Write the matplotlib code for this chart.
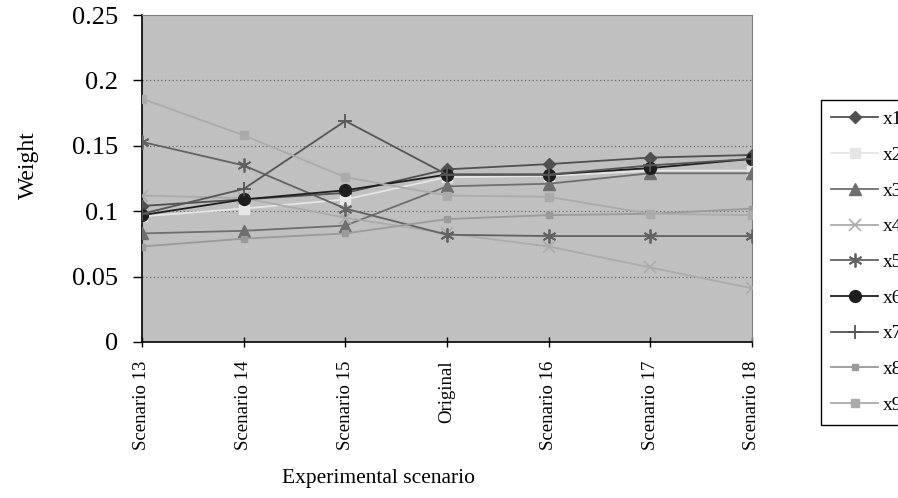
import matplotlib
matplotlib.use("Agg")
import matplotlib.pyplot as plt

plt.rcParams['font.family'] = ['Liberation Serif', 'DejaVu Serif']

categories = ["Scenario 13", "Scenario 14", "Scenario 15", "Original",
              "Scenario 16", "Scenario 17", "Scenario 18"]
x1 = [0.104, 0.109, 0.114, 0.132, 0.136, 0.141, 0.143]
x2 = [0.096, 0.102, 0.109, 0.126, 0.127, 0.131, 0.131]
x3 = [0.083, 0.085, 0.089, 0.119, 0.121, 0.129, 0.129]
x4 = [0.112, 0.110, 0.095, 0.083, 0.073, 0.057, 0.041]
x5 = [0.153, 0.135, 0.102, 0.082, 0.081, 0.081, 0.081]
x6 = [0.097, 0.109, 0.116, 0.128, 0.128, 0.133, 0.140]
x7 = [0.098, 0.117, 0.169, 0.128, 0.128, 0.135, 0.140]
x8 = [0.073, 0.079, 0.083, 0.094, 0.097, 0.098, 0.102]
x9 = [0.186, 0.158, 0.126, 0.112, 0.111, 0.098, 0.097]
series_names = ["x1", "x2", "x3", "x4", "x5", "x6", "x7", "x8", "x9"]
series_values = [x1, x2, x3, x4, x5, x6, x7, x8, x9]
y_ticks = [0, 0.05, 0.1, 0.15, 0.2, 0.25]
y_tick_labels = ["0", "0.05", "0.1", "0.15", "0.2", "0.25"]

styles = [
    dict(color="#505050", marker="D", ms=6, mfc="#505050", mec="#505050"),
    dict(color="#e6e6e6", marker="s", ms=7, mfc="#e6e6e6", mec="#e6e6e6"),
    dict(color="#6e6e6e", marker="^", ms=8.5, mfc="#6e6e6e", mec="#6e6e6e"),
    dict(color="#ababab", marker="x", ms=8, mfc="#ababab", mec="#ababab", mew=1.2),
    dict(color="#626262", marker=(6, 2, 0), ms=10, mfc="#626262", mec="#626262", mew=1.3),
    dict(color="#1e1e1e", marker="o", ms=8.5, mfc="#1e1e1e", mec="#1e1e1e"),
    dict(color="#555555", marker="+", ms=10, mfc="#555555", mec="#555555", mew=1.3),
    dict(color="#9a9a9a", marker="s", ms=4.5, mfc="#9a9a9a", mec="#9a9a9a"),
    dict(color="#ababab", marker="s", ms=6, mfc="#ababab", mec="#ababab"),
]

W, H = 898, 498
fig = plt.figure(figsize=(W / 100, H / 100), dpi=100)
ax_l, ax_r, ax_t, ax_b = 142, 752, 15, 342
ax = fig.add_axes([ax_l / W, 1 - ax_b / H, (ax_r - ax_l) / W, (ax_b - ax_t) / H])
ax.set_facecolor("#c0c0c0")

xs = list(range(len(categories)))
handles = []
for name, vals, st in zip(series_names, series_values, styles):
    ln, = ax.plot(xs, vals, lw=1.3, label=name, zorder=3, **st)
    handles.append(ln)

ax.set_xlim(0, len(categories) - 1)
ax.set_ylim(0, 0.25)
ax.set_yticks(y_ticks)
ax.set_yticklabels(y_tick_labels, fontsize=19)
ax.set_xticks(xs)
ax.set_xticklabels(categories, rotation=90, fontsize=13.5, va="top", ha="center")
ax.tick_params(axis="y", direction="out", length=6.5, width=1, pad=11, color="black")
ax.tick_params(axis="x", direction="inout", length=6.5, width=1, pad=10, color="black")

for yv in y_ticks[1:-1]:
    ax.axhline(yv, color="#6a6a6a", lw=0.9, ls=(0, (1, 2)), zorder=1)

ax.spines["left"].set_color("black")
ax.spines["bottom"].set_color("black")
ax.spines["left"].set_linewidth(1.2)
ax.spines["bottom"].set_linewidth(1.2)
ax.spines["top"].set_color("#808080")
ax.spines["right"].set_color("#808080")

fig.text(28 / W, 1 - 165 / H, "Weight", rotation=90, ha="center", va="center", fontsize=17)
fig.text(378 / W, 1 - 478 / H, "Experimental scenario", ha="center", va="center", fontsize=15.5)

leg = fig.legend(handles=handles, loc="upper left",
                 bbox_to_anchor=(820.5 / W, 1 - 100 / H),
                 fontsize=14, frameon=True, fancybox=False, framealpha=1,
                 edgecolor="black", handlelength=2.42, handletextpad=0.26,
                 labelspacing=0.93, borderpad=0.55, borderaxespad=0)
leg.get_frame().set_linewidth(1.0)

fig.savefig("out.png", dpi=100)
